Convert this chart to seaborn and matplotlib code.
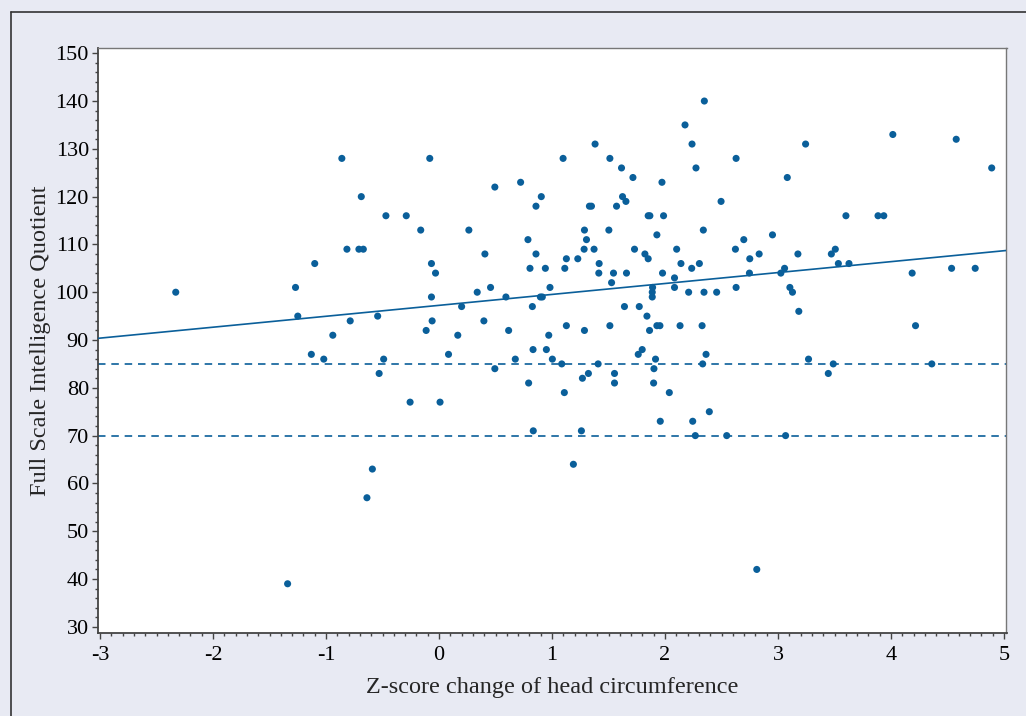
import matplotlib
matplotlib.use("Agg")
import matplotlib.pyplot as plt
from matplotlib.lines import Line2D
from matplotlib.ticker import MultipleLocator
import numpy as np
import pandas as pd
import seaborn as sns

# z-score change of head circumference vs full scale IQ
hc_change = [
    -2.33, -1.34, -1.27, -1.25, -1.13, -1.10, -1.02, -0.94, -0.86, -0.815,
    -0.786, -0.709, -0.688, -0.67, -0.638, -0.59, -0.543, -0.53, -0.49, -0.47,
    -0.29, -0.256, -0.162, -0.114, -0.082, -0.067, -0.067, -0.061, -0.031, 0.009,
    0.084, 0.166, 0.20, 0.264, 0.338, 0.397, 0.406, 0.456, 0.494, 0.494,
    0.592, 0.616, 0.675, 0.722, 0.787, 0.793, 0.805, 0.826, 0.832, 0.834,
    0.858, 0.858, 0.897, 0.905, 0.914, 0.941, 0.95, 0.971, 0.982, 1.003,
    1.086, 1.098, 1.109, 1.113, 1.127, 1.127, 1.189, 1.228, 1.26, 1.269,
    1.284, 1.287, 1.287, 1.305, 1.322, 1.331, 1.349, 1.372, 1.381, 1.408,
    1.414, 1.417, 1.503, 1.512, 1.512, 1.527, 1.544, 1.553, 1.553, 1.571,
    1.615, 1.624, 1.641, 1.654, 1.659, 1.716, 1.730, 1.763, 1.772, 1.798,
    1.822, 1.84, 1.851, 1.851, 1.863, 1.866, 1.887, 1.887, 1.89, 1.899,
    1.902, 1.916, 1.928, 1.928, 1.955, 1.958, 1.973, 1.978, 1.987, 2.038,
    2.084, 2.084, 2.103, 2.133, 2.141, 2.177, 2.209, 2.236, 2.239, 2.245,
    2.268, 2.274, 2.304, 2.328, 2.333, 2.339, 2.345, 2.348, 2.363, 2.392,
    2.457, 2.496, 2.546, 2.623, 2.629, 2.629, 2.697, 2.747, 2.750, 2.812,
    2.833, 2.951, 3.025, 3.058, 3.067, 3.082, 3.105, 3.128, 3.176, 3.184,
    3.244, 3.270, 3.445, 3.472, 3.489, 3.507, 3.534, 3.601, 3.628, 3.885,
    3.936, 4.016, 4.187, 4.217, 4.361, 4.536, 4.577, 4.745, 4.891,
]
fsiq = [
    100, 39, 101, 95, 87, 106, 86, 91, 128, 109,
    94, 109, 120, 109, 57, 63, 95, 83, 86, 116,
    116, 77, 113, 92, 128, 106, 99, 94, 104, 77,
    87, 91, 97, 113, 100, 94, 108, 101, 122, 84,
    99, 92, 86, 123, 111, 81, 105, 97, 88, 71,
    118, 108, 99, 120, 99, 105, 88, 91, 101, 86,
    85, 128, 79, 105, 107, 93, 64, 107, 71, 82,
    109, 113, 92, 111, 83, 118, 118, 109, 131, 85,
    104, 106, 113, 128, 93, 102, 104, 83, 81, 118,
    126, 120, 97, 119, 104, 124, 109, 87, 97, 88,
    108, 95, 116, 107, 92, 116, 100, 99, 101, 81,
    84, 86, 112, 93, 93, 73, 123, 104, 116, 79,
    103, 101, 109, 93, 106, 135, 100, 105, 131, 73,
    70, 126, 106, 93, 85, 113, 100, 140, 87, 75,
    100, 119, 70, 109, 128, 101, 111, 104, 107, 42,
    108, 112, 104, 105, 70, 124, 101, 100, 108, 96,
    131, 86, 83, 108, 85, 109, 106, 116, 106, 116,
    116, 133, 104, 93, 85, 105, 132, 105, 126,
]
ref_lines = [85, 70]
x_ticks = [-3, -2, -1, 0, 1, 2, 3, 4, 5]
y_ticks = [30, 40, 50, 60, 70, 80, 90, 100, 110, 120, 130, 140, 150]

df = pd.DataFrame({"hc": hc_change, "iq": fsiq})

blue = "#0a5f9a"
bg = "#e8eaf3"
axis_col = "#444444"

sns.set_style("white")
plt.rcParams["font.family"] = ["Liberation Serif", "DejaVu Serif"]
plt.rcParams["axes.unicode_minus"] = False

fig = plt.figure(figsize=(10.26, 7.16), dpi=100)
fig.patch.set_facecolor(bg)
ax = fig.add_axes([98 / 1026, 1 - 633 / 716, (1006.5 - 98) / 1026, (633 - 47.5) / 716])
ax.set_facecolor("white")

ax.set_xlim(-3.018, 5.022)
ax.set_ylim(28.7, 151.2)

for v in ref_lines:
    ax.axhline(v, color=blue, lw=1.2, ls=(0, (4.5, 3.5)), zorder=2)

sns.regplot(data=df, x="hc", y="iq", ax=ax, scatter=False, ci=None,
            truncate=False, line_kws=dict(color=blue, lw=1.2, zorder=3))

sns.scatterplot(data=df, x="hc", y="iq", ax=ax, color=blue, s=26,
                edgecolor="none", linewidth=0, zorder=4)

ax.set_xticks(x_ticks)
ax.set_yticks(y_ticks)
ax.xaxis.set_minor_locator(MultipleLocator(0.1))
ax.yaxis.set_minor_locator(MultipleLocator(2))
ax.tick_params(axis="both", which="major", direction="out", length=4,
               width=1, color=axis_col, labelsize=16, labelcolor="black")
ax.tick_params(axis="both", which="minor", direction="out", length=2.2,
               width=1, color=axis_col)
ax.tick_params(axis="x", which="both", bottom=True, pad=5)
ax.tick_params(axis="y", which="both", left=True, pad=2.5)

ax.set_xlabel("Z-score change of head circumference", fontsize=17.5, labelpad=9)
ax.set_ylabel("Full Scale Intelligence Quotient", fontsize=17.5, labelpad=3.5)

for side in ["left", "bottom"]:
    ax.spines[side].set_color(axis_col)
    ax.spines[side].set_linewidth(1.3)
for side in ["top", "right"]:
    ax.spines[side].set_color("#777777")
    ax.spines[side].set_linewidth(1)

# outer frame (partially cut off on the right and bottom)
fig.add_artist(Line2D([11 / 1026, 11 / 1026], [0, 1 - 12 / 716],
                      color="#333333", lw=1.2, transform=fig.transFigure))
fig.add_artist(Line2D([11 / 1026, 1], [1 - 12 / 716, 1 - 12 / 716],
                      color="#333333", lw=1.2, transform=fig.transFigure))

fig.savefig("out.png", dpi=100, facecolor=bg)
